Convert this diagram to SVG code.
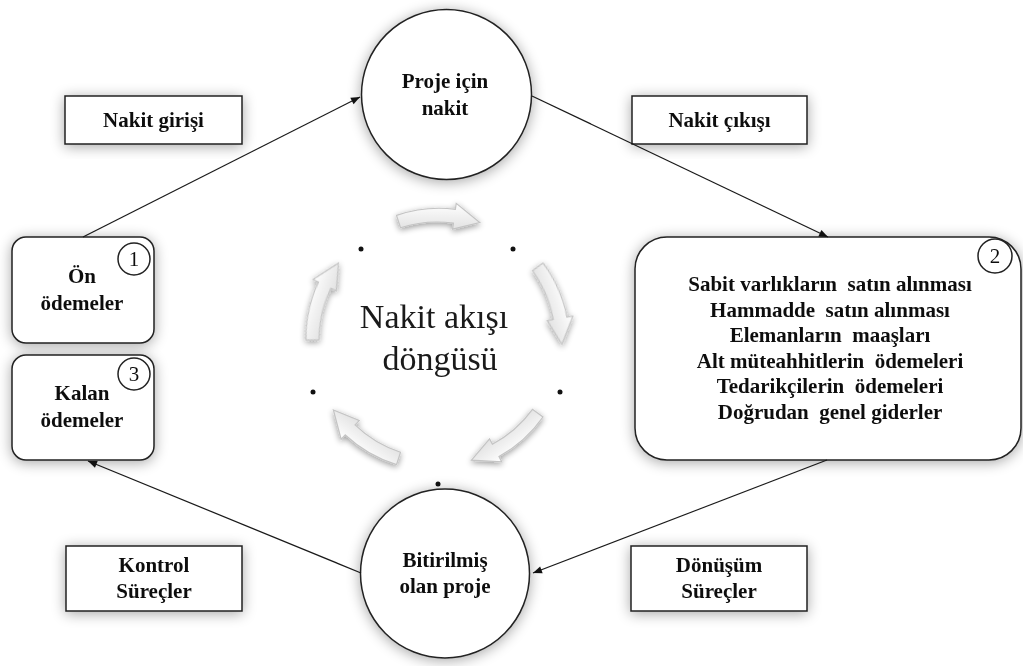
<svg xmlns="http://www.w3.org/2000/svg" width="1023" height="666" viewBox="0 0 1023 666">
<style>
.bx{fill:#fff;stroke:#222;stroke-width:1.5}
.lbl{font-family:"Liberation Serif","Times New Roman",serif;font-weight:bold;font-size:21px;fill:#111;text-anchor:middle;white-space:pre}
.num{font-family:"Liberation Serif","Times New Roman",serif;font-size:21px;fill:#111;text-anchor:middle}
.big{font-family:"Liberation Serif","Times New Roman",serif;font-size:34px;fill:#1a1a1a;text-anchor:middle}
.cn{fill:none;stroke:#1a1a1a;stroke-width:1.3;marker-end:url(#ah)}
.dot{fill:#111}
.cyc{fill:url(#ag);stroke:#c4c4c4;stroke-width:1.2}
</style>
<defs>
<marker id="ah" viewBox="0 0 10 10" refX="10" refY="5" markerWidth="10" markerHeight="9" markerUnits="userSpaceOnUse" orient="auto"><path d="M0,1 L10,5 L0,9 z" fill="#111"/></marker>
<filter id="sh" x="-30%" y="-30%" width="160%" height="160%">
<feGaussianBlur in="SourceAlpha" stdDeviation="7"/>
<feOffset dx="0" dy="2"/>
<feComponentTransfer><feFuncA type="linear" slope="0.35"/></feComponentTransfer>
<feMerge><feMergeNode/><feMergeNode in="SourceGraphic"/></feMerge>
</filter>
<filter id="sh2" x="-30%" y="-30%" width="160%" height="160%">
<feGaussianBlur in="SourceAlpha" stdDeviation="3"/>
<feOffset dx="0" dy="2"/>
<feComponentTransfer><feFuncA type="linear" slope="0.4"/></feComponentTransfer>
<feMerge><feMergeNode/><feMergeNode in="SourceGraphic"/></feMerge>
</filter>
<linearGradient id="ag" x1="0" y1="0" x2="0" y2="1">
<stop offset="0" stop-color="#ffffff"/>
<stop offset="1" stop-color="#e2e2e2"/>
</linearGradient>
<path id="carr" d="M-40.48,-124.59 A132,132 0 0 1 18.37,-130.72 L19.21,-136.66 L42.75,-117.46 L15.59,-110.90 L16.42,-116.84 A118,118 0 0 0 -36.46,-112.22 Z"/>
</defs>
<rect width="1023" height="666" fill="#fff"/>

<g id="cycle" transform="translate(437,340)" filter="url(#sh2)">
<use href="#carr" class="cyc"/>
<use href="#carr" class="cyc" transform="rotate(72)"/>
<use href="#carr" class="cyc" transform="rotate(144)"/>
<use href="#carr" class="cyc" transform="rotate(216)"/>
<use href="#carr" class="cyc" transform="rotate(288)"/>
</g>
<g id="dots">
<circle class="dot" cx="361" cy="249" r="2.5"/>
<circle class="dot" cx="513" cy="249" r="2.5"/>
<circle class="dot" cx="560" cy="392" r="2.5"/>
<circle class="dot" cx="313" cy="392" r="2.5"/>
<circle class="dot" cx="438" cy="484" r="2.5"/>
</g>
<g id="center-title">
<text class="big" x="434" y="328">Nakit akışı</text>
<text class="big" x="440" y="370">döngüsü</text>
</g>

<g id="n-girisi" filter="url(#sh)">
<rect class="bx" x="65" y="96" width="177" height="48"/>
<text class="lbl" x="153.5" y="127">Nakit girişi</text>
</g>
<g id="n-cikisi" filter="url(#sh)">
<rect class="bx" x="632" y="96" width="175" height="48"/>
<text class="lbl" x="719.5" y="127">Nakit çıkışı</text>
</g>
<g id="n-kontrol" filter="url(#sh)">
<rect class="bx" x="66" y="546" width="176" height="65"/>
<text class="lbl" x="154" y="572">Kontrol</text>
<text class="lbl" x="154" y="598">Süreçler</text>
</g>
<g id="n-donusum" filter="url(#sh)">
<rect class="bx" x="631" y="546" width="176" height="65"/>
<text class="lbl" x="719" y="572">Dönüşüm</text>
<text class="lbl" x="719" y="598">Süreçler</text>
</g>

<g id="n-proje" filter="url(#sh)">
<circle class="bx" cx="446.5" cy="94.5" r="85"/>
<text class="lbl" x="445" y="88">Proje için</text>
<text class="lbl" x="445" y="115">nakit</text>
</g>
<g id="n-bitirilmis" filter="url(#sh)">
<circle class="bx" cx="445" cy="573.5" r="84.5"/>
<text class="lbl" x="445" y="567">Bitirilmiş</text>
<text class="lbl" x="445" y="593">olan proje</text>
</g>

<g id="n-on" filter="url(#sh)">
<rect class="bx" x="12" y="237" width="142" height="106" rx="14"/>
<circle class="bx" cx="134" cy="259" r="16"/>
<text class="num" x="134" y="266">1</text>
<text class="lbl" x="82" y="283">Ön</text>
<text class="lbl" x="82" y="310">ödemeler</text>
</g>
<g id="n-kalan" filter="url(#sh)">
<rect class="bx" x="12" y="355" width="142" height="105" rx="14"/>
<circle class="bx" cx="134" cy="374" r="16"/>
<text class="num" x="134" y="381">3</text>
<text class="lbl" x="82" y="400">Kalan</text>
<text class="lbl" x="82" y="427">ödemeler</text>
</g>
<g id="n-giderler" filter="url(#sh)">
<rect class="bx" x="635" y="237" width="386" height="223" rx="32"/>
<circle class="bx" cx="995" cy="256" r="17"/>
<text class="num" x="995" y="263">2</text>
<text class="lbl" x="830" y="291">Sabit varlıkların  satın alınması</text>
<text class="lbl" x="830" y="316.5">Hammadde  satın alınması</text>
<text class="lbl" x="830" y="342">Elemanların  maaşları</text>
<text class="lbl" x="830" y="367.5">Alt müteahhitlerin  ödemeleri</text>
<text class="lbl" x="830" y="393">Tedarikçilerin  ödemeleri</text>
<text class="lbl" x="830" y="418.5">Doğrudan  genel giderler</text>
</g>

<g id="connectors">
<path class="cn" d="M83,237 L360,97"/>
<path class="cn" d="M532,96 L828,237"/>
<path class="cn" d="M827,460 L533,573"/>
<path class="cn" d="M361,573 L88,461"/>
</g>
</svg>
